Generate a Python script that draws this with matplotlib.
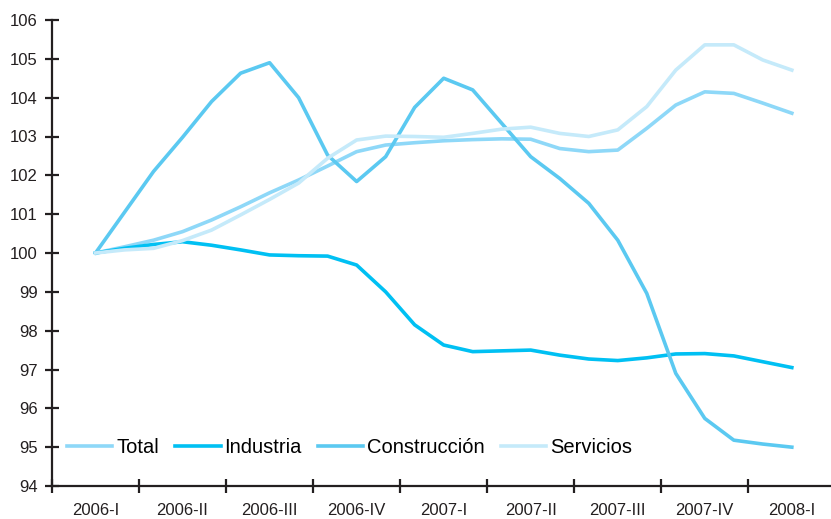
import numpy as np
import matplotlib
matplotlib.use("Agg")
import matplotlib.pyplot as plt

plt.rcParams['font.family'] = ['Liberation Sans', 'DejaVu Sans']

# etiquetas trimestrales y datos mensuales (base 2006-I = 100)
quarters = ['2006-I', '2006-II', '2006-III', '2006-IV', '2007-I',
            '2007-II', '2007-III', '2007-IV', '2008-I']
months = np.arange(25) / 3.0

total = [100.0, 100.16, 100.33, 100.55, 100.85, 101.19, 101.55, 101.88, 102.24,
         102.61, 102.78, 102.84, 102.89, 102.92, 102.94, 102.93, 102.69, 102.61,
         102.65, 103.21, 103.81, 104.15, 104.11, 103.86, 103.6]
industria = [100.0, 100.12, 100.22, 100.29, 100.2, 100.08, 99.95, 99.93, 99.92,
             99.69, 99.0, 98.15, 97.63, 97.46, 97.48, 97.5, 97.37, 97.27,
             97.23, 97.3, 97.4, 97.41, 97.35, 97.2, 97.05]
construccion = [100.0, 101.05, 102.1, 102.98, 103.9, 104.63, 104.9, 104.0, 102.52,
                101.84, 102.48, 103.75, 104.5, 104.2, 103.34, 102.48, 101.92, 101.28,
                100.33, 98.96, 96.9, 95.74, 95.18, 95.08, 95.0]
servicios = [100.0, 100.08, 100.12, 100.32, 100.59, 100.98, 101.38, 101.8, 102.44,
             102.91, 103.01, 103.0, 102.98, 103.08, 103.19, 103.24, 103.08, 103.0,
             103.17, 103.77, 104.71, 105.36, 105.36, 104.97, 104.71]

fig = plt.figure(figsize=(8.31, 5.19), dpi=100)
ax = fig.add_axes([52 / 831, 33 / 519, 779 / 831, 466 / 519])

lw = 2.6
ax.plot(months, total, color='#8ED8F8', lw=lw, label='Total', solid_joinstyle='round')
ax.plot(months, industria, color='#00C0F3', lw=lw, label='Industria', solid_joinstyle='round')
ax.plot(months, construccion, color='#5BC9F1', lw=lw, label='Construcción', solid_joinstyle='round')
ax.plot(months, servicios, color='#C5EAFA', lw=lw, label='Servicios', solid_joinstyle='round')

ax.set_xlim(-0.5, 8.45)
ax.set_ylim(94, 106)
ax.set_yticks(range(94, 107))

# marcas entre trimestres, etiquetas en el centro
ax.set_xticks(np.arange(-0.5, 8, 1.0))
ax.set_xticklabels([])
ax.set_xticks(range(len(quarters)), minor=True)
ax.set_xticklabels(quarters, minor=True)

axis_col = '#231F20'
ax.tick_params(axis='both', which='major', direction='inout', length=9.5,
               width=1.6, color=axis_col, labelsize=12, labelcolor=axis_col)
ax.tick_params(axis='y', pad=5.5)
ax.tick_params(axis='x', which='minor', length=0, pad=12, labelsize=12,
               labelcolor=axis_col)

for s in ['top', 'right']:
    ax.spines[s].set_visible(False)
for s in ['left', 'bottom']:
    ax.spines[s].set_color(axis_col)
    ax.spines[s].set_linewidth(1.6)

ax.legend(loc='center left', bbox_to_anchor=(0.0, 95, 1, 0), bbox_transform=ax.get_yaxis_transform(),
          ncol=4, frameon=False, fontsize=14.5, handlelength=2.25,
          handletextpad=0.2, columnspacing=0.8, borderaxespad=0.0, borderpad=0.0)
leg = ax.get_legend()
leg.set_bbox_to_anchor((15 / 779, 95), transform=ax.get_yaxis_transform())

fig.savefig('out.png', dpi=100)
